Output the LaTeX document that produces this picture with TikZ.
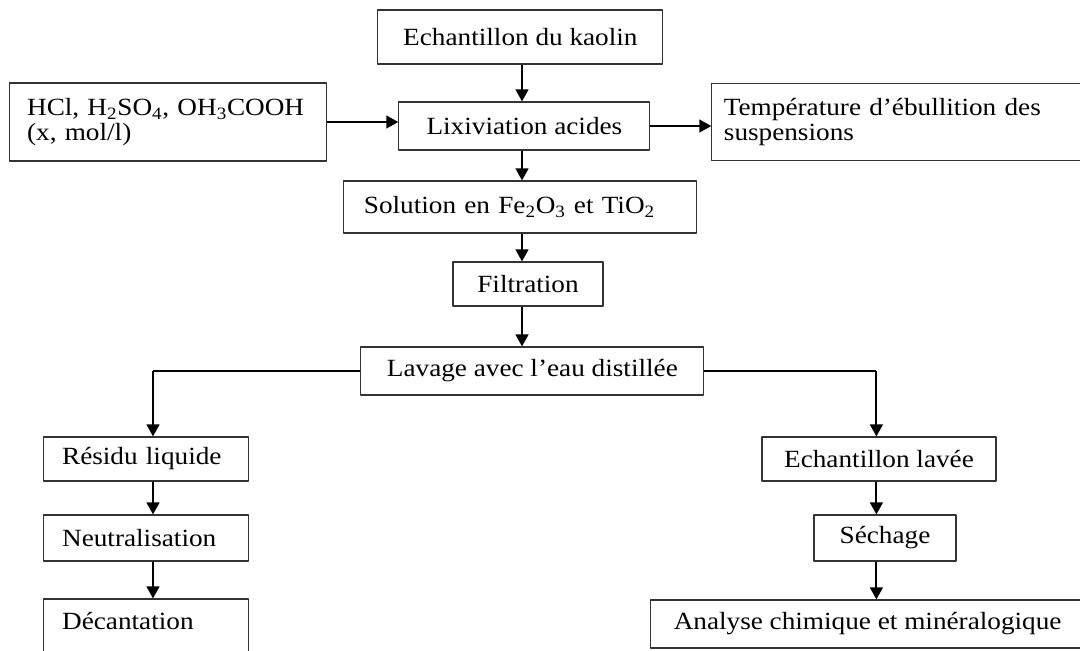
\documentclass[tikz,border=0pt]{standalone}
\usepackage{fontspec}
\setmainfont[FakeStretch=1.1]{Liberation Serif}
\usetikzlibrary{arrows.meta}

\begin{document}
\begin{tikzpicture}[>={Triangle[length=8.5pt,width=9pt]},line join=round,font=\fontsize{17.6}{17.8}\selectfont,
	boite/.style={draw=black!80,line width=0.8pt,inner ysep=0pt},
	fleche/.style={->,line width=1.5pt},
	lien/.style={line width=0.8pt}]
	\useasboundingbox (0,0) rectangle (27,-16.25);
	% colonne centrale
	\coordinate (axe) at (13.05,0);
	\node[boite,minimum width=7.125cm,minimum height=1.35cm] (kaolin) at (13.01,-0.925) {Echantillon du kaolin};
	\node[boite,align=left,inner xsep=0.45cm,text width=7.025cm,minimum height=1.95cm] (acide) at (4.19,-3.05)
		{HCl, H\textsubscript{2}SO\textsubscript{4}, OH\textsubscript{3}COOH\\(x, mol/l)};
	\node[boite,minimum width=6.275cm,minimum height=1.2cm] (lix) at (13.11,-3.15) {Lixiviation acides};
	\node[boite,align=left,inner xsep=0.3cm,text width=8.725cm,minimum height=1.925cm] (temp) at (22.46,-3.06)
		{Température d’ébullition des\\suspensions};
	\node[boite,align=left,inner xsep=0.5cm,text width=7.825cm,minimum height=1.3cm] (sol) at (13.01,-5.175)
		{Solution en Fe\textsubscript{2}O\textsubscript{3} et TiO\textsubscript{2}};
	\node[boite,minimum width=3.75cm,minimum height=1.1cm] (filt) at (13.2,-7.1) {Filtration};
	\node[boite,minimum width=8.575cm,minimum height=1.2cm] (lavage) at (13.31,-9.275) {Lavage avec l’eau distillée};
	% branche gauche
	\node[boite,align=left,inner xsep=0.475cm,text width=4.175cm,minimum height=1.1cm] (residu) at (3.64,-11.475) {Résidu liquide};
	\node[boite,align=left,inner xsep=0.475cm,text width=4.175cm,minimum height=1.15cm] (neutre) at (3.64,-13.45) {Neutralisation};
	\node[boite,align=left,inner xsep=0.475cm,text width=4.175cm,minimum height=1.5cm,text depth=0.4cm] (decant) at (3.64,-15.725) {Décantation};
	% branche droite
	\node[boite,minimum width=5.85cm,minimum height=1.1cm] (lavee) at (21.975,-11.475) {Echantillon lavée};
	\node[boite,minimum width=3.55cm,minimum height=1.15cm] (sechage) at (22.125,-13.45) {Séchage};
	\node[boite,minimum width=10.875cm,minimum height=1.2cm] (analyse) at (21.69,-15.6) {Analyse chimique et minéralogique};
	\coordinate (gauche) at (3.825,0);
	\coordinate (droite) at (21.91,0);

	\draw[fleche] (kaolin.south -| axe) -- (lix.north -| axe);
	\draw[fleche] (lix.south -| axe) -- (sol.north -| axe);
	\draw[fleche] (sol.south -| axe) -- (filt.north -| axe);
	\draw[fleche] (filt.south -| axe) -- (lavage.north -| axe);
	\draw[fleche] (acide.east) -- (acide.east -| lix.west);
	\draw[fleche] (lix.east) -- (lix.east -| temp.west);
	\draw[lien] (lavage.west) -- (lavage.west -| gauche);
	\draw[fleche] (lavage.west -| gauche) -- (residu.north -| gauche);
	\draw[lien] (lavage.east) -- (lavage.east -| droite);
	\draw[fleche] (lavage.east -| droite) -- (lavee.north -| droite);
	\draw[fleche] (residu.south -| gauche) -- (neutre.north -| gauche);
	\draw[fleche] (neutre.south -| gauche) -- (decant.north -| gauche);
	\draw[fleche] (lavee.south -| droite) -- (sechage.north -| droite);
	\draw[fleche] (sechage.south -| droite) -- (analyse.north -| droite);
\end{tikzpicture}
\end{document}
